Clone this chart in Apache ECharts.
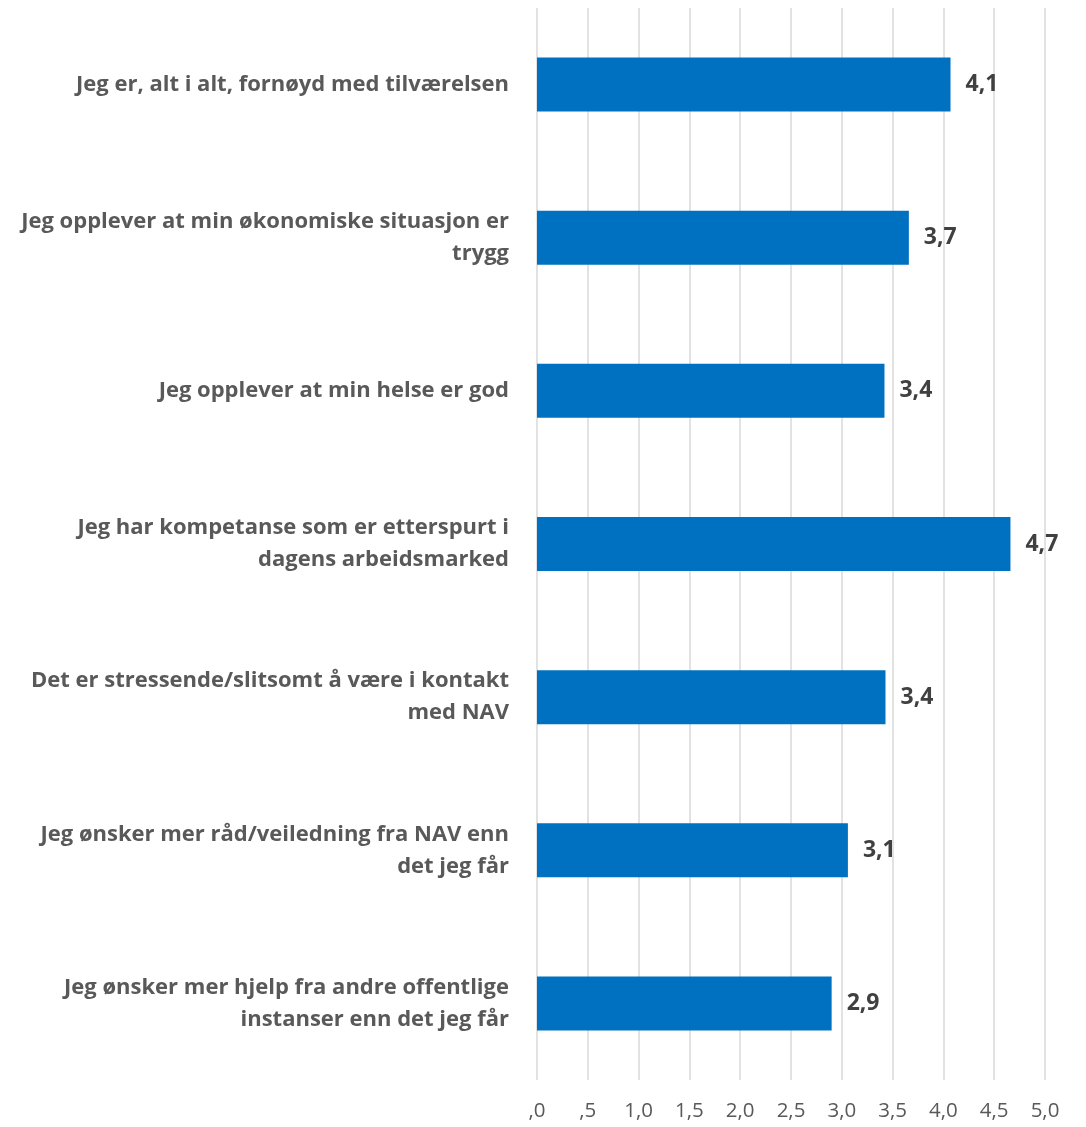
<!DOCTYPE html>
<html>
<head>
<meta charset="utf-8">
<script src="https://cdn.jsdelivr.net/npm/echarts@6/dist/echarts.min.js"></script>
<style>html,body{margin:0;padding:0;background:#fff}#c{width:1086px;height:1127px}</style>
</head>
<body>
<div id="c"></div>
<script>
const categories = [
  "Jeg er, alt i alt, fornøyd med tilværelsen",
  "Jeg opplever at min økonomiske situasjon er\ntrygg",
  "Jeg opplever at min helse er god",
  "Jeg har kompetanse som er etterspurt i\ndagens arbeidsmarked",
  "Det er stressende/slitsomt å være i kontakt\nmed NAV",
  "Jeg ønsker mer råd/veiledning fra NAV enn\ndet jeg får",
  "Jeg ønsker mer hjelp fra andre offentlige\ninstanser enn det jeg får"
];
const values = [4.07, 3.66, 3.42, 4.66, 3.43, 3.06, 2.90];
const xTickLabels = [",0", ",5", "1,0", "1,5", "2,0", "2,5", "3,0", "3,5", "4,0", "4,5", "5,0"];

const font = "'Open Sans', sans-serif";
const chart = echarts.init(document.getElementById('c'));
chart.setOption({
  animation: false,
  grid: { left: 537, right: 41, top: 8, bottom: 47, containLabel: false },
  xAxis: {
    type: 'value', min: 0, max: 5, interval: 0.5,
    axisLine: { show: false }, axisTick: { show: false },
    splitLine: { show: true, lineStyle: { color: '#d9d9d9', width: 1.5 } },
    axisLabel: {
      margin: 21, color: '#595959', fontSize: 20.5, fontFamily: font,
      formatter: v => xTickLabels[Math.round(v * 2)]
    }
  },
  yAxis: {
    type: 'category', inverse: true, data: categories,
    axisLine: { show: false }, axisTick: { show: false },
    axisLabel: {
      margin: 28, color: '#595959', fontSize: 22, fontWeight: 'bold',
      fontFamily: font, lineHeight: 32, align: 'right'
    }
  },
  series: [{
    type: 'bar', data: values, barWidth: 54,
    itemStyle: { color: '#0070C0' },
    label: {
      show: true, position: 'right', distance: 15,
      color: '#404040', fontSize: 23, fontWeight: 'bold', fontFamily: font,
      formatter: p => p.value.toFixed(1).replace('.', ',')
    }
  }]
});
</script>
</body>
</html>
